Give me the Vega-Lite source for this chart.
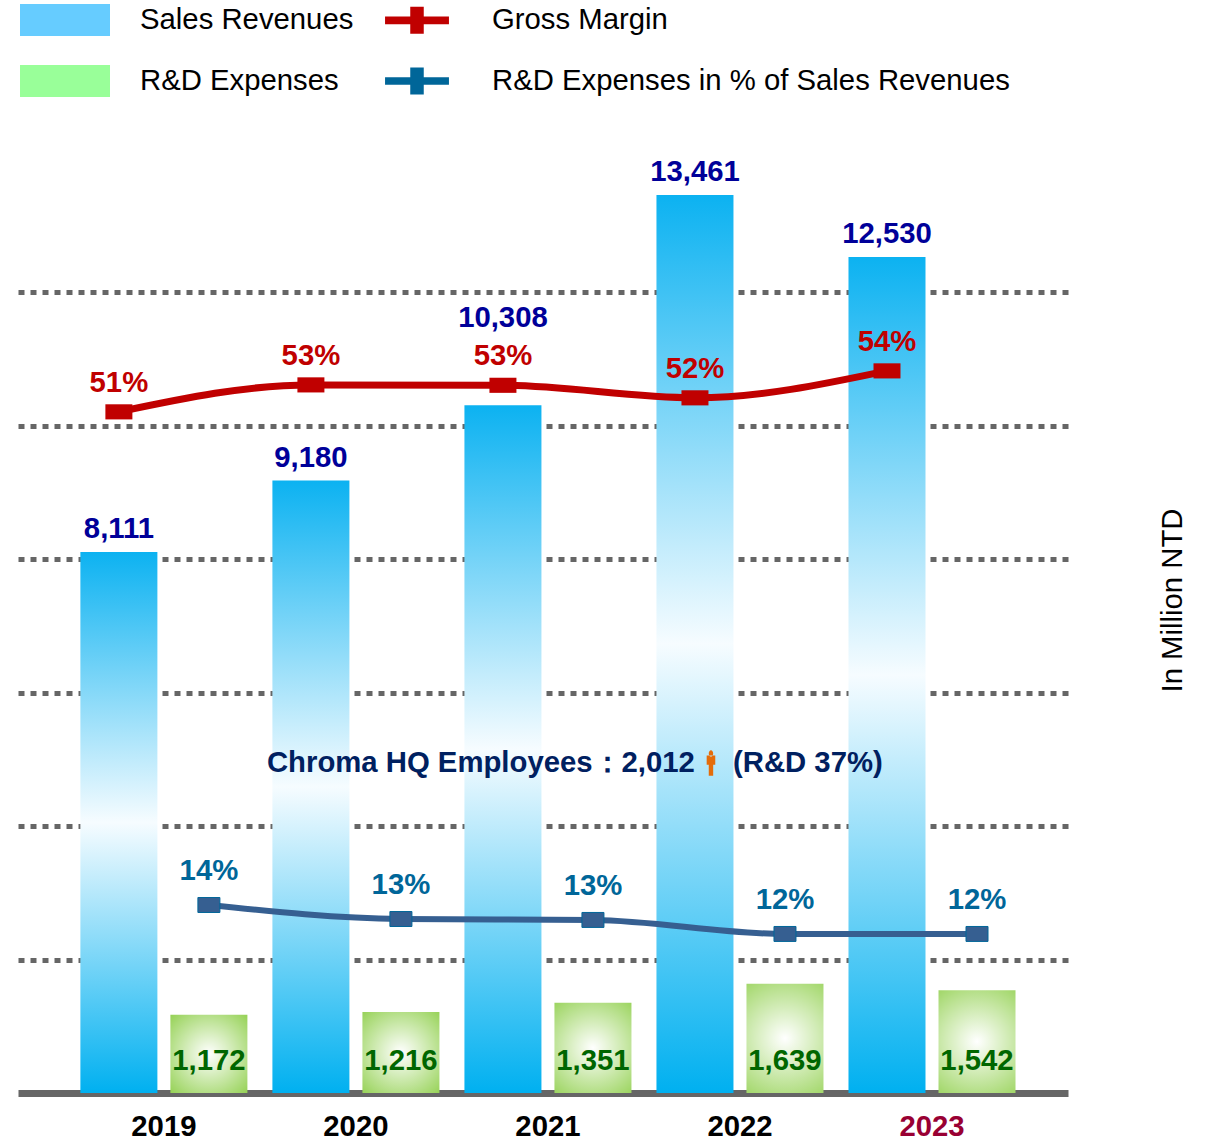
{
"$schema":"https://vega.github.io/schema/vega-lite/v6.json",
"width":1050,"height":934,
"autosize":"none",
"padding":{"left":18,"top":159,"right":141,"bottom":48},
"background":"white",
"config":{"view":{"stroke":null},"font":"Liberation Sans"},
"data":{"values":[
{"year":"2019","series":"Sales Revenues","slot":"A","value":8111},
{"year":"2020","series":"Sales Revenues","slot":"A","value":9180},
{"year":"2021","series":"Sales Revenues","slot":"A","value":10308},
{"year":"2022","series":"Sales Revenues","slot":"A","value":13461},
{"year":"2023","series":"Sales Revenues","slot":"A","value":12530},
{"year":"2019","series":"R&D Expenses","slot":"B","value":1172},
{"year":"2020","series":"R&D Expenses","slot":"B","value":1216},
{"year":"2021","series":"R&D Expenses","slot":"B","value":1351},
{"year":"2022","series":"R&D Expenses","slot":"B","value":1639},
{"year":"2023","series":"R&D Expenses","slot":"B","value":1542},
{"year":"2019","series":"Gross Margin","slot":"A","value":0.5105},
{"year":"2020","series":"Gross Margin","slot":"A","value":0.5307},
{"year":"2021","series":"Gross Margin","slot":"A","value":0.5304},
{"year":"2022","series":"Gross Margin","slot":"A","value":0.521},
{"year":"2023","series":"Gross Margin","slot":"A","value":0.5412},
{"year":"2019","series":"R&D Expenses in % of Sales Revenues","slot":"B","value":0.1409},
{"year":"2020","series":"R&D Expenses in % of Sales Revenues","slot":"B","value":0.1304},
{"year":"2021","series":"R&D Expenses in % of Sales Revenues","slot":"B","value":0.1297},
{"year":"2022","series":"R&D Expenses in % of Sales Revenues","slot":"B","value":0.1192},
{"year":"2023","series":"R&D Expenses in % of Sales Revenues","slot":"B","value":0.1192}
]},
"encoding":{
"x":{"field":"year","type":"nominal","title":null,"scale":{"paddingInner":0,"paddingOuter":0.234,"align":0.555},
 "axis":{"labelAngle":0,"labelFont":"Liberation Sans","labelFontWeight":"bold","labelFontSize":29.3,"labelPadding":19,"labelColor":{"condition":{"test":"datum.label == '2023'","value":"#990033"},"value":"#000000"},"ticks":false,"domainColor":"#666666","domainWidth":7,"grid":false}},
"xOffset":{"field":"slot","type":"nominal","scale":{"paddingInner":0.1444,"paddingOuter":0.1389}}
},
"resolve":{"scale":{"y":"independent"},"axis":{"y":"independent"}},
"layer":[
{"layer":[
 {"transform":[{"filter":"datum.series == 'Sales Revenues'"}],
  "mark":{"type":"bar","color":{"gradient":"linear","x1":0,"y1":0,"x2":0,"y2":1,"stops":[{"offset":0,"color":"#0cb2f1"},{"offset":0.5,"color":"#f6fcff"},{"offset":1,"color":"#00b0f0"}]}},
  "encoding":{"y":{"field":"value","type":"quantitative","title":"In Million NTD","scale":{"domain":[0,14000]},
   "axis":{"orient":"right","values":[2000,4000,6000,8000,10000,12000],"labels":false,"ticks":false,"domain":false,"grid":true,"gridColor":"#666666","gridWidth":5,"gridDash":[6,6],"titleFont":"Liberation Sans","titleFontWeight":"normal","titleFontSize":29.3,"titleColor":"#000000","titleAngle":270,"titleX":104,"titleY":441,"titleBaseline":"middle"}}}},
 {"transform":[{"filter":"datum.series == 'R&D Expenses'"}],
  "mark":{"type":"bar","color":{"gradient":"radial","x1":0.5,"y1":0.5,"r1":0,"x2":0.5,"y2":0.5,"r2":0.72,"stops":[{"offset":0,"color":"#ffffff"},{"offset":1,"color":"#92d050"}]}},
  "encoding":{"y":{"field":"value","type":"quantitative"}}},
 {"transform":[{"filter":"datum.series == 'Sales Revenues' && datum.year != '2021'"}],
  "mark":{"type":"text","font":"Liberation Sans","fontWeight":"bold","fontSize":29.3,"color":"#000099","dy":-23},
  "encoding":{"y":{"field":"value","type":"quantitative"},"text":{"field":"value","type":"quantitative","format":","}}},
 {"transform":[{"filter":"datum.series == 'Sales Revenues' && datum.year == '2021'"}],
  "mark":{"type":"text","font":"Liberation Sans","fontWeight":"bold","fontSize":29.3,"color":"#000099","dy":-87},
  "encoding":{"y":{"field":"value","type":"quantitative"},"text":{"field":"value","type":"quantitative","format":","}}},
 {"transform":[{"filter":"datum.series == 'R&D Expenses'"}],
  "mark":{"type":"text","font":"Liberation Sans","fontWeight":"bold","fontSize":29.3,"color":"#006600","dy":-32},
  "encoding":{"y":{"datum":0},"text":{"field":"value","type":"quantitative","format":","}}},
 {"data":{"values":[{"year":"2021","note":"Chroma HQ Employees\uff1a2,012"}]},
  "mark":{"type":"text","font":"Liberation Sans","fontWeight":"bold","fontSize":29.3,"color":"#002060","align":"left","dx":-281},
  "encoding":{"xOffset":null,"y":{"datum":4950},"text":{"field":"note"}}},
 {"data":{"values":[{"year":"2022","note":"(R&D 37%)"}]},
  "mark":{"type":"text","font":"Liberation Sans","fontWeight":"bold","fontSize":29.3,"color":"#002060","align":"left","dx":-7},
  "encoding":{"xOffset":null,"y":{"datum":4950},"text":{"field":"note"}}},
 {"data":{"values":[{"year":"2022"}]},
  "mark":{"type":"point","filled":true,"opacity":1,"color":"#e46c0a","size":676,"strokeWidth":0,"xOffset":-29,"shape":"M-.33,-.55H.33V.15H.17V1H-.17V.15H-.33ZM-.17,-.72a.17,.24 0 1 0 .34,0a.17,.24 0 1 0 -.34,0Z"},
  "encoding":{"xOffset":null,"y":{"datum":4950}}},
 {"mark":{"type":"point","filled":true,"opacity":0,"size":8100},
  "encoding":{"y":{"field":"value","type":"quantitative"},
   "color":{"field":"series","type":"nominal","sort":null,"scale":{"domain":["Sales Revenues","R&D Expenses","Gross Margin","R&D Expenses in % of Sales Revenues"],"range":["#66ccff","#99ff99","#c00000","#006699"]},
    "legend":{"title":null,"orient":"none","legendX":2,"legendY":-184,"columns":2,"columnPadding":18,"rowPadding":-40,"labelFont":"Liberation Sans","labelFontSize":29.3,"labelColor":"#000000","labelOffset":30,"labelLimit":600,"symbolOpacity":1,"symbolStrokeWidth":0,"symbolSize":8100,"padding":0,"labelExpr":"datum.label == 'R&D Expenses in % of Sales Revenues' ? '\u2009\u2009' + datum.label : datum.label"}},
   "shape":{"field":"series","type":"nominal","sort":null,"scale":{"domain":["Sales Revenues","R&D Expenses","Gross Margin","R&D Expenses in % of Sales Revenues"],"range":["M-1,-.355H1V.355H-1Z","M-1,-.355H1V.355H-1Z","M-.71,-.085H-.15V-.3H.15V-.085H.71V.085H.15V.3H-.15V.085H-.71Z","M-.71,-.085H-.15V-.3H.15V-.085H.71V.085H.15V.3H-.15V.085H-.71Z"]},
    "legend":{"title":null,"orient":"none","legendX":2,"legendY":-184,"columns":2,"columnPadding":18,"rowPadding":-40,"labelFont":"Liberation Sans","labelFontSize":29.3,"labelColor":"#000000","labelOffset":30,"labelLimit":600,"symbolOpacity":1,"symbolStrokeWidth":0,"symbolSize":8100,"padding":0,"labelExpr":"datum.label == 'R&D Expenses in % of Sales Revenues' ? '\u2009\u2009' + datum.label : datum.label"}}}}
]},
{"encoding":{"y":{"field":"value","type":"quantitative","axis":null,"scale":{"domain":[0,0.7]}}},
 "layer":[
 {"transform":[{"filter":"datum.series == 'Gross Margin'"}],"mark":{"type":"line","color":"#c00000","strokeWidth":7,"interpolate":"monotone"}},
 {"transform":[{"filter":"datum.series == 'R&D Expenses in % of Sales Revenues'"}],"mark":{"type":"line","color":"#365f91","strokeWidth":6,"interpolate":"monotone"}},
 {"transform":[{"filter":"datum.series == 'Gross Margin'"}],"mark":{"type":"point","filled":true,"opacity":1,"color":"#c00000","size":729,"shape":"M-1,-.56H1V.56H-1Z"}},
 {"transform":[{"filter":"datum.series == 'R&D Expenses in % of Sales Revenues'"}],"mark":{"type":"point","filled":true,"opacity":1,"color":"#365f91","stroke":"#006699","strokeWidth":1,"size":484,"shape":"M-1,-.68H1V.68H-1Z"}},
 {"transform":[{"filter":"datum.series == 'Gross Margin'"}],"mark":{"type":"text","font":"Liberation Sans","fontWeight":"bold","fontSize":29.3,"color":"#c00000","dy":-29},"encoding":{"text":{"field":"value","type":"quantitative","format":".0%"}}},
 {"transform":[{"filter":"datum.series == 'R&D Expenses in % of Sales Revenues'"}],"mark":{"type":"text","font":"Liberation Sans","fontWeight":"bold","fontSize":29.3,"color":"#006699","dy":-34},"encoding":{"text":{"field":"value","type":"quantitative","format":".0%"}}}
 ]}
]
}
